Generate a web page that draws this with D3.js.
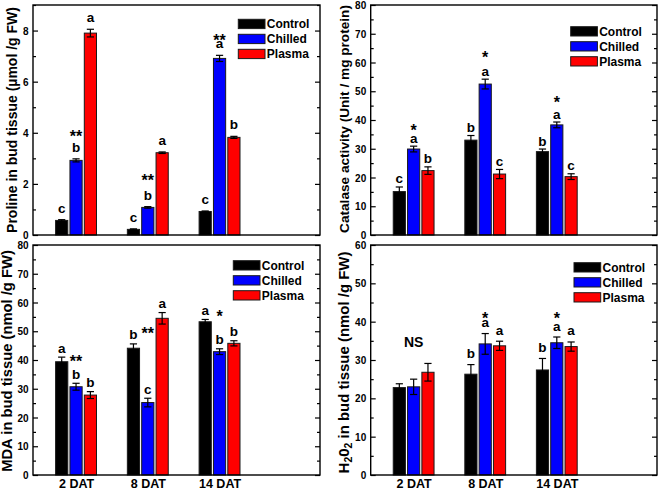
<!DOCTYPE html>
<html><head><meta charset="utf-8">
<script src="https://cdn.jsdelivr.net/npm/d3@7"></script>
<style>
body{margin:0;background:#fff}
svg text{font-family:"Liberation Sans",Arial,sans-serif;font-weight:bold;fill:#000}
</style>
</head><body>
<svg id="chart" width="659" height="492"></svg>
<script>
// ---------- data ----------
const days = ["2 DAT", "8 DAT", "14 DAT"];
const treatments = ["Control", "Chilled", "Plasma"];
const treatmentColors = ["#000000", "#0000ff", "#ff0000"];

// Proline (µmol / g FW): rows = days, columns = Control, Chilled, Plasma
const prolineMean = [[0.57, 2.92, 7.90], [0.22, 1.08, 3.22], [0.92, 6.91, 3.82]];
const prolineErr  = [[0.03, 0.06, 0.15], [0.02, 0.03, 0.03], [0.02, 0.12, 0.04]];
const prolineLetters = [["c", "b", "a"], ["c", "b", "a"], ["c", "a", "b"]];
const prolineStars = [["**", 0, 4.00], ["**", 1, 2.29], ["**", 2, 7.77]];
const prolineTicks = [0, 2, 4, 6, 8];

// Catalase (Unit / mg protein)
const catalaseMean = [[15.1, 29.9, 22.4], [33.0, 52.5, 21.2], [29.0, 38.3, 20.3]];
const catalaseErr  = [[1.6, 1.0, 1.3], [1.6, 1.7, 1.6], [0.9, 1.0, 1.0]];
const catalaseLetters = [["c", "a", "b"], ["b", "a", "c"], ["b", "a", "c"]];
const catalaseStars = [["*", 0, 37.7], ["*", 1, 63.1], ["*", 2, 47.5]];
const catalaseTicks = [0, 10, 20, 30, 40, 50, 60, 70, 80];

// MDA (nmol / g FW)
const mdaMean = [[39.4, 30.7, 27.8], [44.1, 25.2, 54.5], [53.3, 42.9, 45.8]];
const mdaErr  = [[1.6, 1.2, 1.2], [1.5, 1.5, 2.0], [0.8, 1.0, 0.9]];
const mdaLetters = [["a", "b", "b"], ["b", "c", "a"], ["a", "b", "b"]];
const mdaStars = [["**", 0, 40.8], ["**", 1, 50.5], ["*", 2, 56.3]];
const mdaTicks = [0, 10, 20, 30, 40, 50, 60, 70, 80];

// H2O2 (nmol / g FW)
const h2o2Mean = [[22.8, 23.0, 26.8], [26.3, 34.2, 33.7], [27.4, 34.5, 33.5]];
const h2o2Err  = [[1.0, 2.0, 2.3], [2.5, 2.7, 1.2], [3.0, 1.5, 1.2]];
const h2o2Letters = [["", "", ""], ["b", "a", "a"], ["b", "a", "a"]];
const h2o2Stars = [["NS", 0, 34.6], ["*", 1, 41.9], ["*", 2, 41.7]];
const h2o2Ticks = [0, 10, 20, 30, 40, 50, 60];

// ---------- layout ----------
const panels = [
  {mean: prolineMean, err: prolineErr, letters: prolineLetters, stars: prolineStars, ticks: prolineTicks,
   ymax: 9, left: 33, right: 320, top: 5, bottom: 235, gap: 7, xLabels: false,
   title: [["Proline in bud tissue (µmol /g FW)"]], titleX: 17, titleY: 120, titleLen: 226,
   legX: 238.3, legY: 19.3},
  {mean: catalaseMean, err: catalaseErr, letters: catalaseLetters, stars: catalaseStars, ticks: catalaseTicks,
   ymax: 80, left: 370.7, right: 657, top: 5, bottom: 235, gap: 3.5, xLabels: false,
   title: [["Catalase activity (Unit / mg protein)"]], titleX: 349.3, titleY: 119, titleLen: 228,
   legX: 570.7, legY: 26.7},
  {mean: mdaMean, err: mdaErr, letters: mdaLetters, stars: mdaStars, ticks: mdaTicks,
   ymax: 80, left: 33, right: 320, top: 245, bottom: 475, gap: 4.5, xLabels: true,
   title: [["MDA in bud tissue (nmol /g FW)"]], titleX: 12, titleY: 361, titleLen: 222,
   legX: 233.3, legY: 260.7},
  {mean: h2o2Mean, err: h2o2Err, letters: h2o2Letters, stars: h2o2Stars, ticks: h2o2Ticks,
   ymax: 60, left: 370.7, right: 657, top: 245, bottom: 475, gap: 6.5, xLabels: true,
   title: [["H"], ["2", "sub"], ["0"], ["2", "sub"], [" in bud tissue (nmol /g FW)"]], titleX: 348.5, titleY: 362.5, titleLen: 222,
   legX: 574, legY: 262.7}
];

const svg = d3.select("#chart");

panels.forEach(p => {
  const g = svg.append("g");
  const x = d3.scaleLinear().domain([0.4, 4.4]).range([p.left, p.right]);
  const y = d3.scaleLinear().domain([0, p.ymax]).range([p.bottom, p.top]);
  const barOff = [-0.2, 0, 0.2];
  const barW = 0.17;
  const unit = x(1) - x(0);

  const recs = [];
  p.mean.forEach((row, di) => row.forEach((v, ti) => recs.push({
    di, ti, v, e: p.err[di][ti], letter: p.letters[di][ti]
  })));

  // bars
  g.selectAll("rect.bar").data(recs).join("rect")
    .attr("class", "bar")
    .attr("x", d => x(d.di + 1 + barOff[d.ti]) - barW * unit / 2)
    .attr("width", barW * unit)
    .attr("y", d => y(d.v))
    .attr("height", d => y(0) - y(d.v))
    .attr("fill", d => treatmentColors[d.ti])
    .attr("stroke", "#1a1a1a").attr("stroke-width", 1);

  // error bars
  const capW = 3.6;
  const eg = g.selectAll("g.err").data(recs).join("g").attr("class", "err")
    .attr("stroke", "#000").attr("stroke-width", 1.2);
  eg.append("line")
    .attr("x1", d => x(d.di + 1 + barOff[d.ti])).attr("x2", d => x(d.di + 1 + barOff[d.ti]))
    .attr("y1", d => y(d.v - d.e)).attr("y2", d => y(d.v + d.e));
  eg.append("line")
    .attr("x1", d => x(d.di + 1 + barOff[d.ti]) - capW).attr("x2", d => x(d.di + 1 + barOff[d.ti]) + capW)
    .attr("y1", d => y(d.v + d.e)).attr("y2", d => y(d.v + d.e));
  eg.append("line")
    .attr("x1", d => x(d.di + 1 + barOff[d.ti]) - capW).attr("x2", d => x(d.di + 1 + barOff[d.ti]) + capW)
    .attr("y1", d => y(d.v - d.e)).attr("y2", d => y(d.v - d.e));

  // letters
  g.selectAll("text.letter").data(recs.filter(d => d.letter)).join("text")
    .attr("class", "letter")
    .attr("x", d => x(d.di + 1 + barOff[d.ti]))
    .attr("y", d => y(d.v + d.e) - p.gap)
    .attr("text-anchor", "middle")
    .style("font-size", "13.5px")
    .text(d => d.letter);

  // stars / NS
  g.selectAll("text.star").data(p.stars).join("text")
    .attr("class", "star")
    .attr("x", d => x(d[1] + 1 + barOff[1]))
    .attr("y", d => d[0] === "NS" ? y(d[2]) + 5 : y(d[2]) + 0.57 * 16)
    .attr("text-anchor", "middle")
    .style("font-size", d => d[0] === "NS" ? "14px" : "16px")
    .text(d => d[0]);

  // axes
  const minor = d3.range(0, p.ymax + 1e-9, p.ticks[1] / 2).filter(v => !p.ticks.includes(v));
  const left = g.append("g").attr("transform", `translate(${p.left},0)`)
    .call(d3.axisLeft(y).tickValues(p.ticks).tickSize(-5).tickPadding(4.5).tickFormat(d3.format("d")));
  left.selectAll("text").style("font-size", "10px").attr("dy", "0.36em");
  g.append("g").attr("transform", `translate(${p.left},0)`)
    .call(d3.axisLeft(y).tickValues(minor).tickSize(-3).tickFormat(""));
  g.append("g").attr("transform", `translate(${p.right},0)`)
    .call(d3.axisRight(y).tickValues(p.ticks).tickSize(-5).tickFormat(""));
  g.append("g").attr("transform", `translate(${p.right},0)`)
    .call(d3.axisRight(y).tickValues(minor).tickSize(-3).tickFormat(""));
  const bottom = g.append("g").attr("transform", `translate(0,${p.bottom})`)
    .call(d3.axisBottom(x).tickValues([1, 2, 3]).tickSize(0).tickPadding(4.4)
      .tickFormat(d => p.xLabels ? days[d - 1] : ""));
  bottom.selectAll("text").style("font-size", "12.5px");
  g.selectAll(".domain").remove();
  g.selectAll(".tick line").attr("stroke", "#000").attr("stroke-width", 1.2);

  // frame
  g.append("rect")
    .attr("x", p.left).attr("y", p.top)
    .attr("width", p.right - p.left).attr("height", p.bottom - p.top)
    .attr("fill", "none").attr("stroke", "#000").attr("stroke-width", 1.4);

  // y title
  const t = g.append("text")
    .attr("transform", `translate(${p.titleX},${p.titleY}) rotate(-90)`)
    .attr("text-anchor", "middle")
    .style("font-size", "14px");
  p.title.forEach(part => {
    const ts = t.append("tspan").text(part[0]);
    if (part[1] === "sub") ts.style("font-size", "0.7em").attr("baseline-shift", "-25%");
  });
  const len = t.node().getComputedTextLength();
  t.style("font-size", (14 * p.titleLen / len).toFixed(2) + "px");

  // legend
  const lg = g.append("g");
  treatments.forEach((name, i) => {
    lg.append("rect")
      .attr("x", p.legX).attr("y", p.legY + i * 15)
      .attr("width", 26.7).attr("height", 9.3)
      .attr("fill", treatmentColors[i]).attr("stroke", "#1a1a1a").attr("stroke-width", 1);
    lg.append("text")
      .attr("x", p.legX + 28.5).attr("y", p.legY + i * 15 + 4.65 + 4.3)
      .style("font-size", "12px")
      .text(name);
  });
});
</script>
</body></html>
